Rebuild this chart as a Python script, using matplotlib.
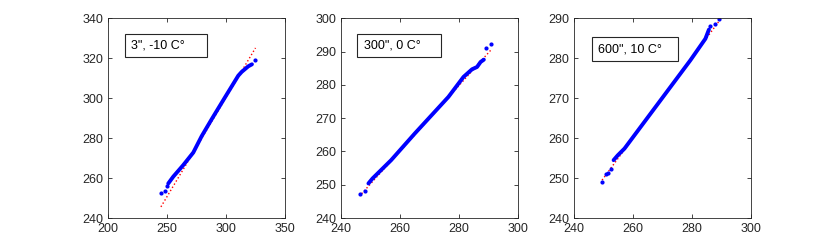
import matplotlib.pyplot as plt
from matplotlib.patches import Rectangle

plt.rcParams['font.family'] = ['Liberation Sans', 'DejaVu Sans']

# panel labels
labels = ['3", -10 C°', '300", 0 C°', '600", 10 C°']

# blue quantile points (body of each curve)
x1 = [251.1, 255.3, 263.8, 272.3, 279.4, 287.9, 299.2, 310.4, 313.3, 318.9, 322.0]
y1 = [257.3, 260.7, 266.5, 272.8, 281.0, 289.5, 300.5, 311.3, 313.2, 316.0, 317.0]
x2 = [249.3, 250.7, 257.0, 265.0, 276.4, 281.5, 284.4, 286.1, 287.3, 288.4]
y2 = [250.4, 251.9, 257.4, 265.4, 276.4, 282.4, 284.7, 285.4, 286.9, 287.6]
x3 = [253.4, 254.8, 257.1, 268.0, 279.4, 284.5, 285.7]
y3 = [254.5, 255.7, 257.4, 268.2, 279.5, 284.9, 287.2]

# isolated end points
tx1 = [244.9, 248.3, 250.0, 324.6]
ty1 = [252.3, 253.7, 256.3, 319.0]
tx2 = [246.6, 248.2, 289.2, 290.9]
ty2 = [247.1, 248.1, 291.1, 292.4]
tx3 = [249.4, 250.9, 251.6, 252.5, 286.2, 287.7, 289.1]
ty3 = [249.1, 251.0, 251.2, 252.4, 288.2, 288.7, 289.8]

# red reference lines (end points)
rx1 = [244.9, 325.0]
ry1 = [245.6, 325.2]
rx2 = [247.0, 291.0]
ry2 = [247.3, 290.7]
rx3 = [249.5, 290.0]
ry3 = [249.5, 290.2]

xlims = [(200, 350), (240, 300), (240, 300)]
ylims = [(240, 340), (240, 300), (240, 290)]
xticks = [[200, 250, 300, 350], [240, 260, 280, 300], [240, 260, 280, 300]]
yticks = [[240, 260, 280, 300, 320, 340], [240, 250, 260, 270, 280, 290, 300],
          [240, 250, 260, 270, 280, 290]]

data = [(x1, y1, tx1, ty1, rx1, ry1), (x2, y2, tx2, ty2, rx2, ry2),
        (x3, y3, tx3, ty3, rx3, ry3)]

fig = plt.figure(figsize=(8.3, 2.45), dpi=100)
lefts = [0.13, 0.4108, 0.6916]
# label box: x0, y0, width, height (axes fraction), text x
boxes = [(0.096, 0.805, 0.463, 0.115, 0.13),
         (0.09, 0.805, 0.475, 0.115, 0.13),
         (0.102, 0.785, 0.486, 0.12, 0.136)]

for i in range(3):
    ax = fig.add_axes([lefts[i], 0.11, 0.2134, 0.815])
    bx, by, tx, ty, rx, ry = data[i]
    ax.plot(rx, ry, ':', color='red', linewidth=1)
    ax.plot(bx, by, '-', color='blue', linewidth=2.8, solid_capstyle='round')
    ax.plot(tx, ty, '.', color='blue', markersize=4)
    ax.set_xlim(xlims[i])
    ax.set_ylim(ylims[i])
    ax.set_xticks(xticks[i])
    ax.set_yticks(yticks[i])
    ax.tick_params(direction='in', length=3, labelsize=9, top=True, right=True,
                   labelcolor='#262626', color='#262626', width=0.6)
    for s in ax.spines.values():
        s.set_color('#262626')
        s.set_linewidth(0.6)
    bx0, by0, bw, bh, txx = boxes[i]
    ax.add_patch(Rectangle((bx0, by0), bw, bh, transform=ax.transAxes,
                           facecolor='white', edgecolor='#262626', linewidth=0.8,
                           zorder=5))
    ax.text(txx, by0 + bh / 2, labels[i], transform=ax.transAxes, fontsize=9,
            va='center', ha='left', color='black', zorder=6)

fig.savefig('out.png', dpi=100)
